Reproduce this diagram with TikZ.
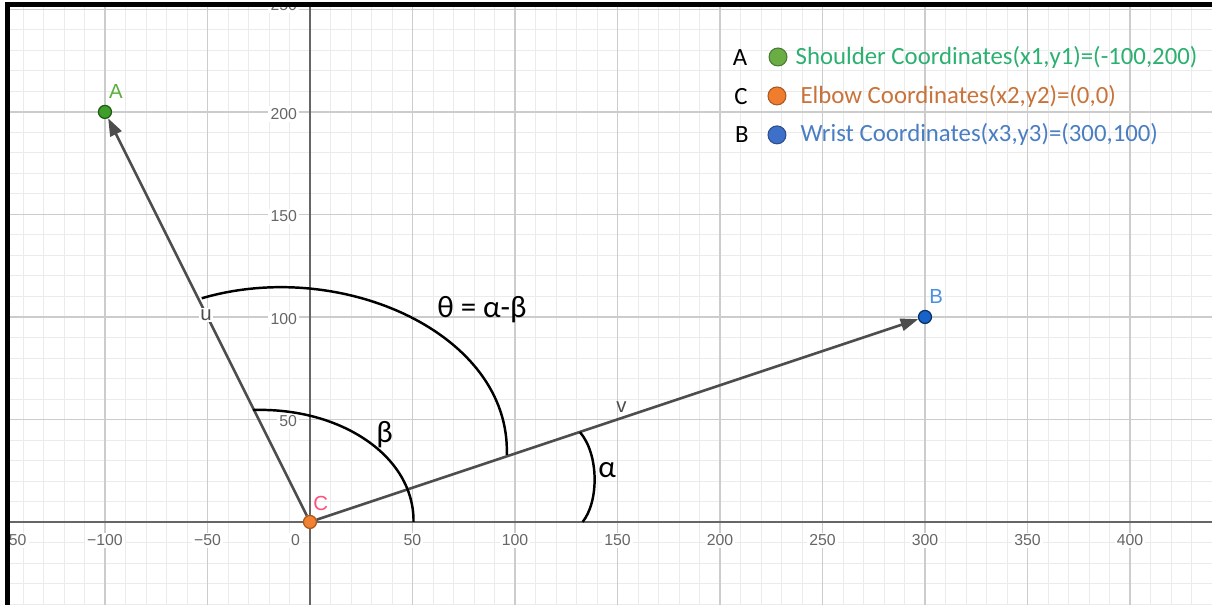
\documentclass[tikz,border=0pt]{standalone}
\usepackage{fontspec}
\usepackage{xcolor}
\usepackage{tikz}
\usetikzlibrary{arrows.meta}

\newfontfamily\geofont{Liberation Sans}
\newfontfamily\calfont{Carlito}

\definecolor{minorgrid}{HTML}{EBEBEB}
\definecolor{majorgrid}{HTML}{CCCCCC}
\definecolor{axisgray}{HTML}{666666}
\definecolor{tickgray}{HTML}{666666}
\definecolor{vecgray}{HTML}{4D4D4D}
\definecolor{ptgreen}{HTML}{3E9E2A}
\definecolor{ptgreendark}{HTML}{1E5A12}
\definecolor{ptorange}{HTML}{F08232}
\definecolor{ptorangedark}{HTML}{B0541A}
\definecolor{ptblue}{HTML}{1763C8}
\definecolor{ptbluedark}{HTML}{0C2F66}
\definecolor{labgreen}{HTML}{5AAF3C}
\definecolor{labpink}{HTML}{FF4F7B}
\definecolor{labblue}{HTML}{4C90E0}
\definecolor{leggreen}{HTML}{2BB070}
\definecolor{legorange}{HTML}{C8733A}
\definecolor{legblue}{HTML}{4A7EC2}
\definecolor{dotgreen}{HTML}{6AAD45}
\definecolor{dotorange}{HTML}{F07D2E}
\definecolor{dotblue}{HTML}{3E6FC9}

\begin{document}
\begin{tikzpicture}[x=0.0205cm, y=0.0205cm,
    tick/.style={font=\geofont\fontsize{4.5}{5}\selectfont, text=tickgray, fill=white, inner sep=0.6pt},
    ptlabel/.style={font=\geofont\fontsize{5.8}{6}\selectfont, inner sep=0.5pt},
    pt/.style={circle, line width=0.35pt, minimum size=3.7pt, inner sep=0pt},
    legdot/.style={circle, line width=0.3pt, minimum size=5.1pt, inner sep=0pt},
    legtext/.style={font=\calfont\fontsize{7.05}{8}\selectfont, anchor=west, inner sep=0pt},
    vec/.style={line width=0.75pt, draw=vecgray, -{Triangle[length=5pt, width=3.5pt]}},
    anglearc/.style={line width=0.7pt, black},
    anglelabel/.style={font=\calfont\fontsize{8.8}{10}\selectfont, inner sep=0pt}]

    \useasboundingbox (-151.2,-40.5) rectangle (440,254.6);

    % Grid, axes and tick labels
    \begin{scope}
        \clip (-147.6,-40.5) rectangle (440,252.2);
        \foreach \x in {-150,-140,...,440}
            \draw[minorgrid, line width=0.25pt] (\x,-40.5) -- (\x,252.2);
        \foreach \y in {-40,-30,...,250}
            \draw[minorgrid, line width=0.25pt] (-147.6,\y) -- (440,\y);
        \foreach \x in {-150,-100,...,400}
            \draw[majorgrid, line width=0.35pt] (\x,-40.5) -- (\x,252.2);
        \foreach \y in {50,100,...,250}
            \draw[majorgrid, line width=0.35pt] (-147.6,\y) -- (440,\y);
        \draw[axisgray, line width=0.5pt] (-147.6,0) -- (440,0);
        \draw[axisgray, line width=0.5pt] (0,-40.5) -- (0,252.2);

        \foreach \x/\t in {-100/−100,-50/−50,50/50,100/100,150/150,200/200,250/250,300/300,350/350,400/400}
            \node[tick] (xl\x) at (\x,-9) {\t};
        \node[tick] (xl-150) at (-147,-9) {−150};
        \node[tick] (xl0) at (-7,-9) {0};
        \foreach \y in {50,100,...,200}
            \node[tick, anchor=east] (yl\y) at (-5,\y-1) {\y};
        \node[tick, anchor=east] (yl250) at (-5,252) {250};
    \end{scope}

    % Frame
    \draw[line width=1.4pt] (-147.6,-40.5) -- (-147.6,252.2) -- (440,252.2);

    % Points
    \node[pt, fill=ptgreen, draw=ptgreendark] (A) at (-100,200) {};
    \node[pt, fill=ptorange, draw=ptorangedark] (C) at (0,0) {};
    \node[pt, fill=ptblue, draw=ptbluedark] (B) at (300,100) {};
    \node[ptlabel, text=labgreen] (lA) at (-94.6,210) {A};
    \node[ptlabel, text=labpink] (lC) at (5.2,9.2) {C};
    \node[ptlabel, text=labblue] (lB) at (305.4,110) {B};

    % Vectors u and v
    \draw[vec] (C) -- (A);
    \draw[vec] (C) -- (B);
    \node[ptlabel, text=vecgray, fill=white] (lu) at (-50.7,101) {u};
    \node[ptlabel, text=vecgray] (lv) at (152,56) {v};

    % Angles
    \draw[anglearc] (-52.8,109.1) .. controls (15,129) and (98,92) .. (96,32.7);
    \draw[anglearc] (-27.8,54.6) .. controls (15,56) and (51,32) .. (50.5,0);
    \draw[anglearc] (131.7,43.8) .. controls (141,33) and (141,10) .. (133,0);
    \node[anglelabel] (theta) at (83.9,103.4) {θ = α-β};
    \node[anglelabel] (beta) at (36.4,42.4) {β};
    \node[anglelabel] (alpha) at (145,25.4) {α};

    % Legend
    \node[legtext, anchor=center] (kA) at (209.8,226.3) {A};
    \node[legdot, fill=dotgreen, draw=dotgreen!70!black] (dA) at (228.3,226.8) {};
    \node[legtext, text=leggreen] (tA) at (236.6,226.8) {Shoulder Coordinates(x1,y1)=(-100,200)};
    \node[legtext, anchor=center] (kC) at (210.2,207.3) {C};
    \node[legdot, fill=dotorange, draw=dotorange!70!black] (dC) at (227.8,207.8) {};
    \node[legtext, text=legorange] (tC) at (239,207.8) {Elbow Coordinates(x2,y2)=(0,0)};
    \node[legtext, anchor=center] (kB) at (210.7,188.8) {B};
    \node[legdot, fill=dotblue, draw=dotblue!70!black] (dB) at (227.8,188.8) {};
    \node[legtext, text=legblue] (tB) at (239,188.8) {Wrist Coordinates(x3,y3)=(300,100)};
\end{tikzpicture}
\end{document}
